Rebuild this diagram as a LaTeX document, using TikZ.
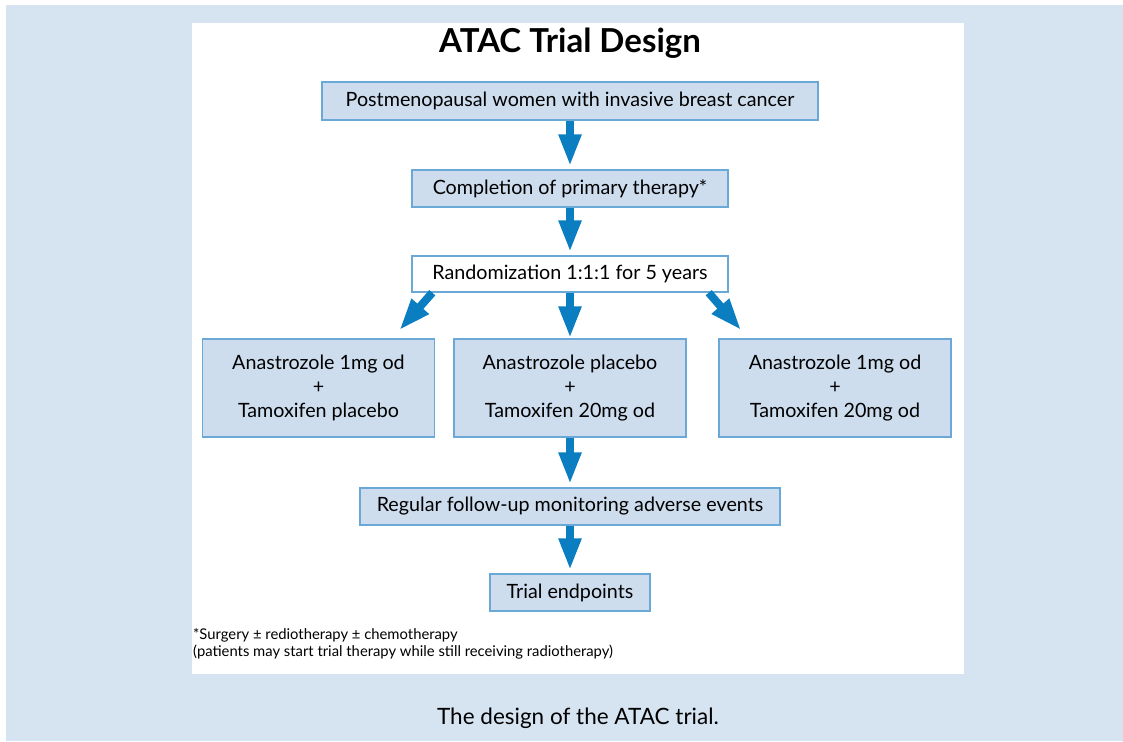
\documentclass[tikz,border=0pt]{standalone}
\usepackage{fontspec}
\setmainfont{Lato}
\usetikzlibrary{positioning, arrows.meta}
\definecolor{panelblue}{HTML}{D6E4F2}
\definecolor{boxfill}{HTML}{CDDDEE}
\definecolor{boxline}{HTML}{6AA8D8}
\definecolor{arrowblue}{HTML}{0B7EC1}

\begin{document}
\begin{tikzpicture}[x=1pt,y=-1pt,on grid,>={Triangle[width=21pt,length=32pt]}]
\tikzstyle{stage}=[rectangle,draw=boxline,line width=1.4pt,fill=boxfill,inner sep=0pt,
  align=center,font=\fontsize{19.7}{24}\selectfont]
\tikzstyle{flow}=[->,draw=arrowblue,line width=8pt]

  %--- panels ---
  \useasboundingbox (0,0) rectangle (1123,741);
  \fill[panelblue] (6,5) rectangle (1123,741);
  \fill[white] (192,23) rectangle (964,674);

  %--- nodes ---
  \node[font=\bfseries\fontsize{33}{36}\selectfont] (title) at (570,43) {ATAC Trial Design};
  \node[stage, minimum width=496pt, minimum height=38pt] (women) at (570,101)
    {Postmenopausal women with invasive breast cancer};
  \node[stage, minimum width=316pt, minimum height=37pt] (primary) [below=87.5pt of women]
    {Completion of primary therapy*};
  \node[stage, fill=white, minimum width=316pt, minimum height=36pt] (random) [below=85.5pt of primary]
    {Randomization 1:1:1 for 5 years};
  \node[stage, minimum width=232pt, minimum height=98pt] (armB) [below=114pt of random]
    {Anastrozole placebo\\+\\Tamoxifen 20mg od};
  \node[stage, minimum width=232pt, minimum height=98pt] (armA) [left=251.5pt of armB]
    {Anastrozole 1mg od\\+\\Tamoxifen placebo};
  \node[stage, minimum width=232pt, minimum height=98pt] (armC) [right=265pt of armB]
    {Anastrozole 1mg od\\+\\Tamoxifen 20mg od};
  \node[stage, minimum width=420pt, minimum height=37pt] (followup) [below=118.5pt of armB]
    {Regular follow-up monitoring adverse events};
  \node[stage, minimum width=160pt, minimum height=37pt] (endpoints) [below=86pt of followup]
    {Trial endpoints};

  \node[anchor=north west, align=left, inner sep=0pt, font=\fontsize{14.8}{17}\selectfont] (note) at (193,628)
    {*Surgery ± rediotherapy ± chemotherapy\\(patients may start trial therapy while still receiving radiotherapy)};
  \node[font=\fontsize{22.5}{26}\selectfont] (caption) at (578,718) {The design of the ATAC trial.};

  \coordinate (lfrom) at ([xshift=21pt]random.south west);
  \coordinate (lto) at ([xshift=-36pt,yshift=8pt]armA.north east);
  \coordinate (rfrom) at ([xshift=-20pt]random.south east);
  \coordinate (rto) at ([xshift=23pt,yshift=8pt]armC.north west);

  %--- arrows ---
  \draw[flow, shorten >=3pt] (women) -- (primary);
  \draw[flow, shorten >=3pt] (primary) -- (random);
  \draw[flow] (random) -- (armB);
  \draw[flow] (lfrom) -- (lto);
  \draw[flow] (rfrom) -- (rto);
  \draw[flow, shorten >=3pt] (armB) -- (followup);
  \draw[flow, shorten >=3pt] (followup) -- (endpoints);
\end{tikzpicture}
\end{document}
